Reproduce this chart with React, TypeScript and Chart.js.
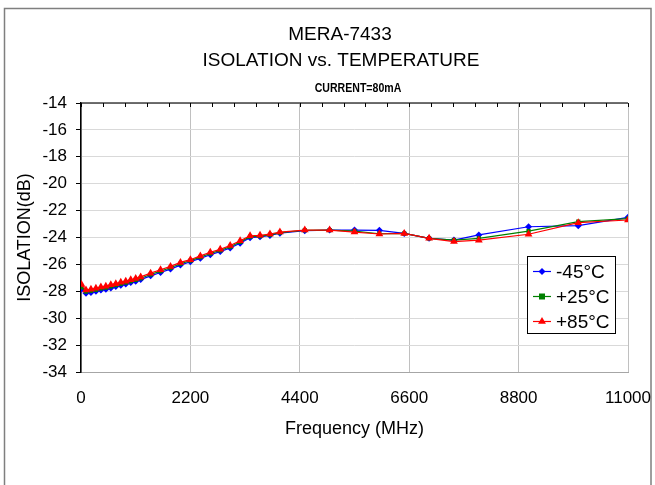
import React, { useEffect, useRef } from 'react';
import { Chart, registerables } from 'chart.js';

Chart.register(...registerables);

// ---- data ----
const FREQ_MHZ = [10, 100, 200, 300, 400, 500, 600, 700, 800, 900, 1000, 1100, 1200, 1400, 1600, 1800, 2000, 2200, 2400, 2600, 2800, 3000, 3200, 3400, 3600, 3800, 4000, 4500, 5000, 5500, 6000, 6500, 7000, 7500, 8000, 9000, 10000, 11000];
const ISO_M45 = [-27.85, -28.15, -28.08, -28.0, -27.9, -27.85, -27.75, -27.65, -27.55, -27.45, -27.35, -27.25, -27.13, -26.85, -26.6, -26.35, -26.05, -25.8, -25.55, -25.28, -25.05, -24.78, -24.42, -24.02, -23.95, -23.85, -23.68, -23.5, -23.45, -23.45, -23.47, -23.7, -24.06, -24.19, -23.81, -23.2, -23.12, -22.5];
const ISO_P25 = [-27.7, -28.02, -27.96, -27.89, -27.79, -27.73, -27.63, -27.54, -27.44, -27.35, -27.25, -27.15, -27.03, -26.75, -26.5, -26.25, -25.95, -25.72, -25.46, -25.19, -24.96, -24.69, -24.33, -23.94, -23.9, -23.8, -23.64, -23.46, -23.45, -23.52, -23.72, -23.7, -24.06, -24.19, -24.06, -23.52, -22.82, -22.6];
const ISO_P85 = [-27.5, -27.9, -27.85, -27.78, -27.68, -27.62, -27.52, -27.43, -27.33, -27.25, -27.15, -27.05, -26.93, -26.65, -26.4, -26.15, -25.85, -25.65, -25.37, -25.1, -24.88, -24.6, -24.25, -23.87, -23.84, -23.74, -23.6, -23.45, -23.45, -23.6, -23.74, -23.7, -24.06, -24.3, -24.2, -23.76, -22.9, -22.7];
const SERIES_LABELS = ['-45°C', '+25°C', '+85°C'];
const TITLE_LINES = ['MERA-7433', 'ISOLATION vs. TEMPERATURE'];
const SUBTITLE = 'CURRENT=80mA';
const X_TITLE = 'Frequency (MHz)';
const Y_TITLE = 'ISOLATION(dB)';
const X_TICKS = [0, 2200, 4400, 6600, 8800, 11000];
const X_MINOR_STEP = 440;
const Y_MIN = -34;
const Y_MAX = -14;
const Y_STEP = 2;

const FONT = "'Liberation Sans', Arial, sans-serif";
const COLORS = ['#0000ff', '#008000', '#ff0000'];
const STYLES = ['rectRot', 'rect', 'triangle'];

function drawMarker(ctx: CanvasRenderingContext2D, style: string, x: number, y: number, color: string) {
  ctx.fillStyle = color;
  ctx.beginPath();
  if (style === 'rectRot') {
    const r = 3.5;
    ctx.moveTo(x, y - r); ctx.lineTo(x + r, y); ctx.lineTo(x, y + r); ctx.lineTo(x - r, y);
  } else if (style === 'rect') {
    const r = 3;
    ctx.rect(x - r, y - r, 2 * r, 2 * r);
  } else {
    const r = 4.5;
    ctx.moveTo(x, y - r); ctx.lineTo(x + r * 0.87, y + r * 0.5); ctx.lineTo(x - r * 0.87, y + r * 0.5);
  }
  ctx.closePath();
  ctx.fill();
}

const framePlugin = {
  id: 'frame',
  beforeDraw(chart: any) {
    const { ctx, width, height } = chart;
    ctx.save();
    ctx.fillStyle = '#ffffff';
    ctx.fillRect(0, 0, width, height);
    ctx.strokeStyle = '#7f7f7f';
    ctx.lineWidth = 1.5;
    ctx.strokeRect(4.5, 8.5, 646.5, 500);
    ctx.fillStyle = '#000';
    ctx.textAlign = 'center';
    ctx.textBaseline = 'middle';
    ctx.font = `19px ${FONT}`;
    ctx.fillText(TITLE_LINES[0], 340, 35);
    ctx.fillText(TITLE_LINES[1], 341, 61);
    ctx.save();
    ctx.translate(358, 89);
    ctx.scale(0.88, 1);
    ctx.font = `bold 12px ${FONT}`;
    ctx.fillText(SUBTITLE, 0, 0);
    ctx.restore();
    ctx.restore();
  },
  afterDraw(chart: any) {
    const { ctx, chartArea: a, scales } = chart;
    const xs = scales.x;
    ctx.save();
    ctx.strokeStyle = '#404040';
    ctx.lineWidth = 1.5;
    ctx.beginPath();
    ctx.moveTo(a.left, a.top);
    ctx.lineTo(a.right, a.top);
    ctx.stroke();
    ctx.lineWidth = 1;
    ctx.strokeStyle = '#000';
    ctx.beginPath();
    for (let v = 0; v <= xs.max; v += X_MINOR_STEP) {
      const px = Math.round(xs.getPixelForValue(v)) + 0.5;
      ctx.moveTo(px, a.top);
      ctx.lineTo(px, a.top + 4);
    }
    ctx.stroke();

    // legend
    const bx = 527.5, by = 256.5, bw = 88, bh = 77;
    ctx.fillStyle = '#fff';
    ctx.fillRect(bx, by, bw, bh);
    ctx.strokeStyle = '#000';
    ctx.lineWidth = 1;
    ctx.strokeRect(bx, by, bw, bh);
    ctx.font = `19px ${FONT}`;
    ctx.textAlign = 'left';
    ctx.textBaseline = 'middle';
    SERIES_LABELS.forEach((lab, i) => {
      const y = 271.5 + i * 25;
      ctx.strokeStyle = COLORS[i];
      ctx.lineWidth = 1.2;
      ctx.beginPath();
      ctx.moveTo(533, y);
      ctx.lineTo(551, y);
      ctx.stroke();
      drawMarker(ctx, STYLES[i], 542, y, COLORS[i]);
      ctx.fillStyle = '#000';
      ctx.fillText(lab, 556, y + 1);
    });
    ctx.restore();
  },
};

export default function App() {
  const ref = useRef<HTMLCanvasElement | null>(null);

  useEffect(() => {
    if (!ref.current) return;
    const series = [ISO_M45, ISO_P25, ISO_P85];
    const chart = new Chart(ref.current, {
      type: 'line',
      data: {
        datasets: series.map((vals, i) => ({
          label: SERIES_LABELS[i],
          data: FREQ_MHZ.map((f, j) => ({ x: f, y: vals[j] })),
          borderColor: COLORS[i],
          backgroundColor: COLORS[i],
          borderWidth: 1.2,
          pointStyle: STYLES[i] as any,
          pointRadius: i === 2 ? 4.5 : i === 0 ? 3.5 : 3,
          pointBorderWidth: 0,
          tension: 0,
          order: 2 - i,
        })),
      },
      options: {
        responsive: false,
        animation: false,
        devicePixelRatio: 1,
        layout: { padding: { left: 4, top: 103, right: 27, bottom: 33 } },
        plugins: { legend: { display: false }, tooltip: { enabled: false }, title: { display: false } },
        scales: {
          x: {
            type: 'linear',
            min: 0,
            max: 11000,
            afterBuildTicks: (s: any) => { s.ticks = X_TICKS.map((v) => ({ value: v })); },
            ticks: { color: '#000', font: { family: FONT, size: 17 }, padding: 16, maxRotation: 0, autoSkip: false, callback: (v: any) => String(v) },
            grid: { color: '#c0c0c0', lineWidth: 1, drawTicks: false },
            border: { color: '#a6a6a6', width: 1 },
            title: { display: true, text: X_TITLE, color: '#000', font: { family: FONT, size: 18 }, padding: { top: 0, bottom: 12 } },
            afterFit: (s: any) => { s.height = 80; s.paddingLeft = 0; s.paddingRight = 0; },
          },
          y: {
            type: 'linear',
            min: Y_MIN,
            max: Y_MAX,
            ticks: { stepSize: Y_STEP, color: '#000', font: { family: FONT, size: 17 }, padding: 9, callback: (v: any) => String(v) },
            grid: { color: '#d9d9d9', tickColor: '#000', tickLength: 5, lineWidth: 1 },
            border: { color: '#000', width: 1.5 },
            title: { display: true, text: Y_TITLE, color: '#000', font: { family: FONT, size: 18 }, padding: { top: 10, bottom: 0 } },
            afterFit: (s: any) => { s.width = 77; s.paddingTop = 0; s.paddingBottom = 0; },
          },
        },
      },
      plugins: [framePlugin],
    });
    return () => chart.destroy();
  }, []);

  return (
    <div style={{ position: 'absolute', left: 0, top: 0, width: 655, height: 485, background: '#fff' }}>
      <canvas ref={ref} width={655} height={485} style={{ display: 'block' }} />
    </div>
  );
}
